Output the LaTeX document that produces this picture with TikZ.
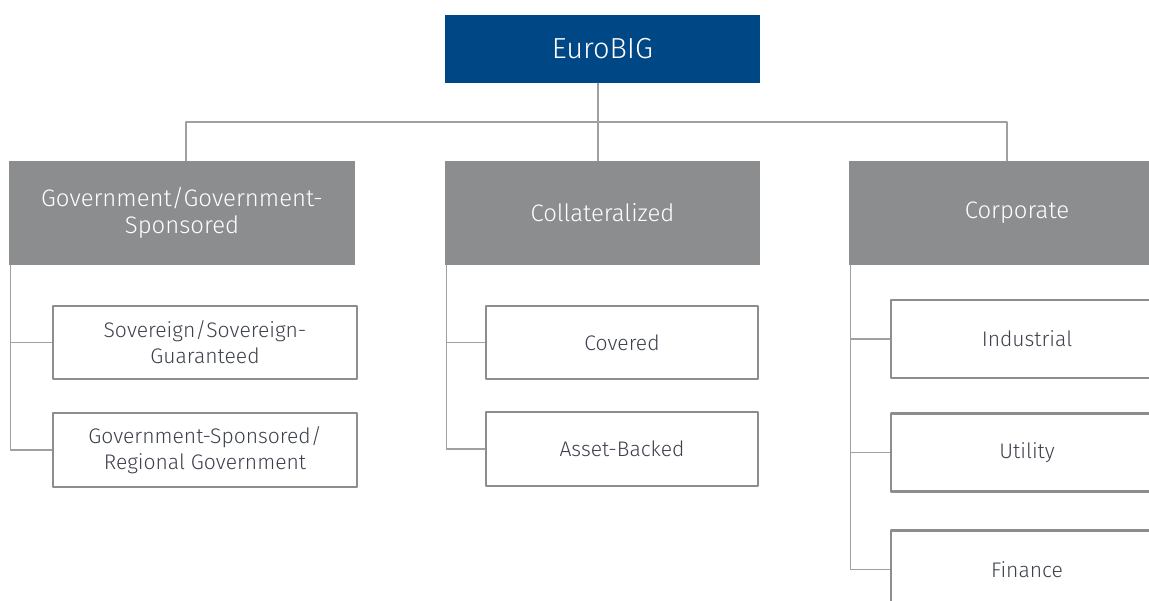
\documentclass[tikz,border=0pt]{standalone}
\usepackage{fontspec}
\setmainfont{Fira Sans Light}
\usetikzlibrary{positioning, calc}

\definecolor{bigblue}{RGB}{0,71,133}
\definecolor{catgray}{RGB}{140,141,143}
\definecolor{linegray}{RGB}{160,160,160}
\definecolor{subtext}{RGB}{61,65,75}

\tikzset{
  rootbox/.style={fill=bigblue, text=white, minimum width=315*0.02cm, minimum height=68*0.02cm,
    inner sep=0pt, font=\fontsize{16.5}{20}\selectfont},
  catbox/.style={fill=catgray, text=white, minimum height=104*0.02cm, inner sep=0pt, align=center,
    font=\fontsize{13.6}{15.4}\selectfont},
  subbox/.style={draw=catgray, line width=1.6pt, text=subtext, minimum height=74*0.02cm, inner sep=0pt,
    align=center, font=\fontsize{12}{14.8}\selectfont},
  link/.style={draw=linegray, line width=0.8pt}
}

\begin{document}
\begin{tikzpicture}[line cap=round,line join=round,x=0.02cm,y=-0.02cm]
\useasboundingbox (0,0) rectangle (1149,601);
\clip (0,0) rectangle (1149,601);

\coordinate (bus) at (598,122);

\node[rootbox] (root) at (602.5,49) {EuroBIG};

\node[catbox, minimum width=346*0.02cm] (gov) at (182,213) {Government/Government-\\Sponsored};
\node[catbox, minimum width=315*0.02cm] (coll) at (602.5,213) {Collateralized};
\node[catbox, minimum width=336*0.02cm] (corp) at (1017,213) {Corporate};

\node[subbox, minimum width=304*0.02cm, minimum height=73*0.02cm] (sov) at (205,342.5) {Sovereign/Sovereign-\\Guaranteed};
\node[subbox, minimum width=304*0.02cm] (gsr) at (205,450) {Government-Sponsored/\\Regional Government};

\node[subbox, minimum width=272*0.02cm, minimum height=73*0.02cm] (cov) at (622,342.5) {Covered};
\node[subbox, minimum width=272*0.02cm] (abs) at (622,449) {Asset-Backed};

\node[subbox, minimum width=272*0.02cm, minimum height=78*0.02cm] (ind) at (1027,339) {Industrial};
\node[subbox, minimum width=272*0.02cm, minimum height=78*0.02cm] (util) at (1027,452.5) {Utility};
\node[subbox, minimum width=272*0.02cm, minimum height=78*0.02cm] (fin) at (1027,569.5) {Finance};

% top level
\draw[link] (root.south -| bus) -- (coll.north -| bus);
\draw[link] ([xshift=2.3pt]gov.north) |- (bus) -| ([xshift=-5.7pt]corp.north);

% branches
\draw[link] ([xshift=1]gov.south west) |- (sov.west);
\draw[link] ([xshift=1]gov.south west) |- (gsr.west);
\draw[link] ([xshift=1]coll.south west) |- (cov.west);
\draw[link] ([xshift=1]coll.south west) |- (abs.west);
\draw[link] ([xshift=1]corp.south west) |- (ind.west);
\draw[link] ([xshift=1]corp.south west) |- (util.west);
\draw[link] ([xshift=1]corp.south west) |- (fin.west);
\end{tikzpicture}
\end{document}
